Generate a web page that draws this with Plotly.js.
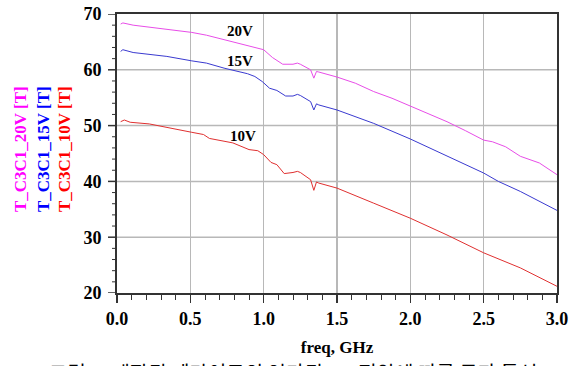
<!DOCTYPE html>
<html>
<head>
<meta charset="utf-8">
<script src="https://cdn.plot.ly/plotly-3.0.1.min.js"></script>
<style>html,body{margin:0;padding:0;background:#fff;overflow:hidden}#chart{width:581px;height:366px}</style>
</head>
<body>
<div id="chart"></div>
<script>
// freq in GHz
const x20 = [0.025,0.04,0.11,0.34,0.51,0.61,0.79,0.93,1.0,1.06,1.13,1.2,1.23,1.25,1.32,1.342,1.36,1.376,1.5,1.625,1.75,1.875,2.0,2.125,2.25,2.375,2.5,2.56,2.65,2.75,2.88,3.0];
const y20 = [68.2,68.4,68.0,67.3,66.7,66.2,65.0,64.0,63.6,62.2,61.0,61.0,61.2,61.0,60.0,58.5,59.7,59.6,58.7,57.6,56.1,54.9,53.5,52.2,50.7,49.1,47.4,47.1,46.2,44.5,43.3,41.2];

const x15 = [0.025,0.04,0.11,0.34,0.51,0.61,0.73,0.89,0.94,0.99,1.04,1.09,1.15,1.2,1.23,1.25,1.32,1.342,1.36,1.376,1.5,1.75,2.0,2.25,2.5,2.6,2.75,3.0];
const y15 = [63.3,63.6,63.1,62.4,61.6,61.2,60.3,59.3,58.8,57.9,56.7,56.3,55.3,55.3,55.6,55.4,54.3,52.8,53.9,53.7,52.8,50.4,47.6,44.5,41.5,40.0,38.2,34.8];

const x10 = [0.025,0.05,0.09,0.22,0.51,0.59,0.63,0.79,0.9,0.96,1.0,1.05,1.09,1.14,1.2,1.23,1.25,1.32,1.342,1.36,1.376,1.5,1.75,2.0,2.25,2.5,2.75,3.0];
const y10 = [50.7,51.0,50.6,50.3,48.8,48.4,47.7,46.9,45.7,45.5,44.8,43.4,43.0,41.4,41.6,41.8,41.6,40.3,38.4,39.9,39.7,38.8,36.1,33.4,30.4,27.2,24.5,21.2];

const xTicks = [0.0,0.5,1.0,1.5,2.0,2.5,3.0];
const xTickText = ['0.0','0.5','1.0','1.5','2.0','2.5','3.0'];
const yTicks = [20,30,40,50,60,70];
const yTickText = ['20','30','40','50','60','70'];
const yMinorTicks = [22,24,26,28,32,34,36,38,42,44,46,48,52,54,56,58,62,64,66,68];

const seriesNames = ['T_C3C1_20V [T]','T_C3C1_15V [T]','T_C3C1_10V [T]'];
const curveLabels = ['20V','15V','10V'];
const curveLabelX = [0.84,0.84,0.86];
const curveLabelY = [67.0,61.6,48.2];
const caption = '그림 5. 제작된 페라이트의 인가된 DC 전압에 따른 투과 특성';

const serif = '"Liberation Serif", "Times New Roman", serif';
const traces = [
  {x:x20,y:y20,mode:'lines',line:{color:'#e84de8',width:1},name:seriesNames[0]},
  {x:x15,y:y15,mode:'lines',line:{color:'#3a3ad0',width:1},name:seriesNames[1]},
  {x:x10,y:y10,mode:'lines',line:{color:'#e03030',width:1},name:seriesNames[2]}
];

const labelColors = ['#ff00ff','#0000ff','#ff0000'];
const labelXpx = [20,43,64];
const annotations = [];
for (let i=0;i<3;i++){
  annotations.push({xref:'paper',yref:'paper',x:(labelXpx[i]-117)/440,y:0.516,text:'<b>'+seriesNames[i]+'</b>',
    textangle:-90,showarrow:false,xanchor:'center',yanchor:'middle',
    font:{family:serif,size:17,color:labelColors[i]}});
  annotations.push({xref:'x',yref:'y',x:curveLabelX[i],y:curveLabelY[i],text:'<b>'+curveLabels[i]+'</b>',showarrow:false,
    font:{family:serif,size:15,color:'#000'}});
}
annotations.push({xref:'paper',yref:'paper',x:0.40,y:-0.226,yanchor:'top',xanchor:'center',text:caption,showarrow:false,
  font:{family:'Noto Sans CJK KR',size:20,color:'#000'}});

// horizontal gridlines (on both data scales, below the traces) and y ticks as shapes
const shapes = [];
yTicks.forEach(v=>{
  if (v>20 && v<70) shapes.push({type:'line',xref:'x',yref:'y',x0:xTicks[0],x1:xTicks[xTicks.length-1],y0:v,y1:v,layer:'below',line:{color:'#b8b8b8',width:1.5}});
  shapes.push({type:'line',xref:'paper',yref:'y',x0:-9/440,x1:0,y0:v,y1:v,line:{color:'#333',width:1.5}});
});
yMinorTicks.forEach(v=>{
  shapes.push({type:'line',xref:'paper',yref:'y',x0:-5/440,x1:0,y0:v,y1:v,line:{color:'#333',width:1}});
});

const layout = {
  width:581,height:366,
  margin:{l:117,r:24,t:14,b:73},
  paper_bgcolor:'#fff',plot_bgcolor:'#fff',
  showlegend:false,
  xaxis:{range:[0,3],tickmode:'array',tickvals:xTicks,ticktext:xTickText.map(t=>'<b>'+t+'</b>'),
    showgrid:true,gridcolor:'#b8b8b8',gridwidth:1.5,
    zeroline:false,showline:true,linecolor:'#333',linewidth:2,mirror:true,
    ticks:'outside',ticklen:8,tickwidth:1.5,tickcolor:'#333',
    minor:{tickmode:'linear',tick0:0,dtick:0.1,ticks:'outside',ticklen:5,tickwidth:1,tickcolor:'#333',showgrid:false},
    tickfont:{family:serif,size:18,color:'#000'},
    title:{text:'<b>freq, GHz</b>',font:{family:serif,size:17,color:'#000'},standoff:14}},
  yaxis:{range:[20,70],tickmode:'array',tickvals:yTicks,ticktext:yTickText.map(t=>'<b>'+t+'</b>'),
    showgrid:false,zeroline:false,showline:true,linecolor:'#333',linewidth:2,mirror:true,
    ticks:'',ticklabelstandoff:10,
    tickfont:{family:serif,size:18,color:'#000'}},
  shapes:shapes,
  annotations:annotations
};
Plotly.newPlot('chart',traces,layout,{displayModeBar:false,staticPlot:true});
</script>
</body>
</html>
